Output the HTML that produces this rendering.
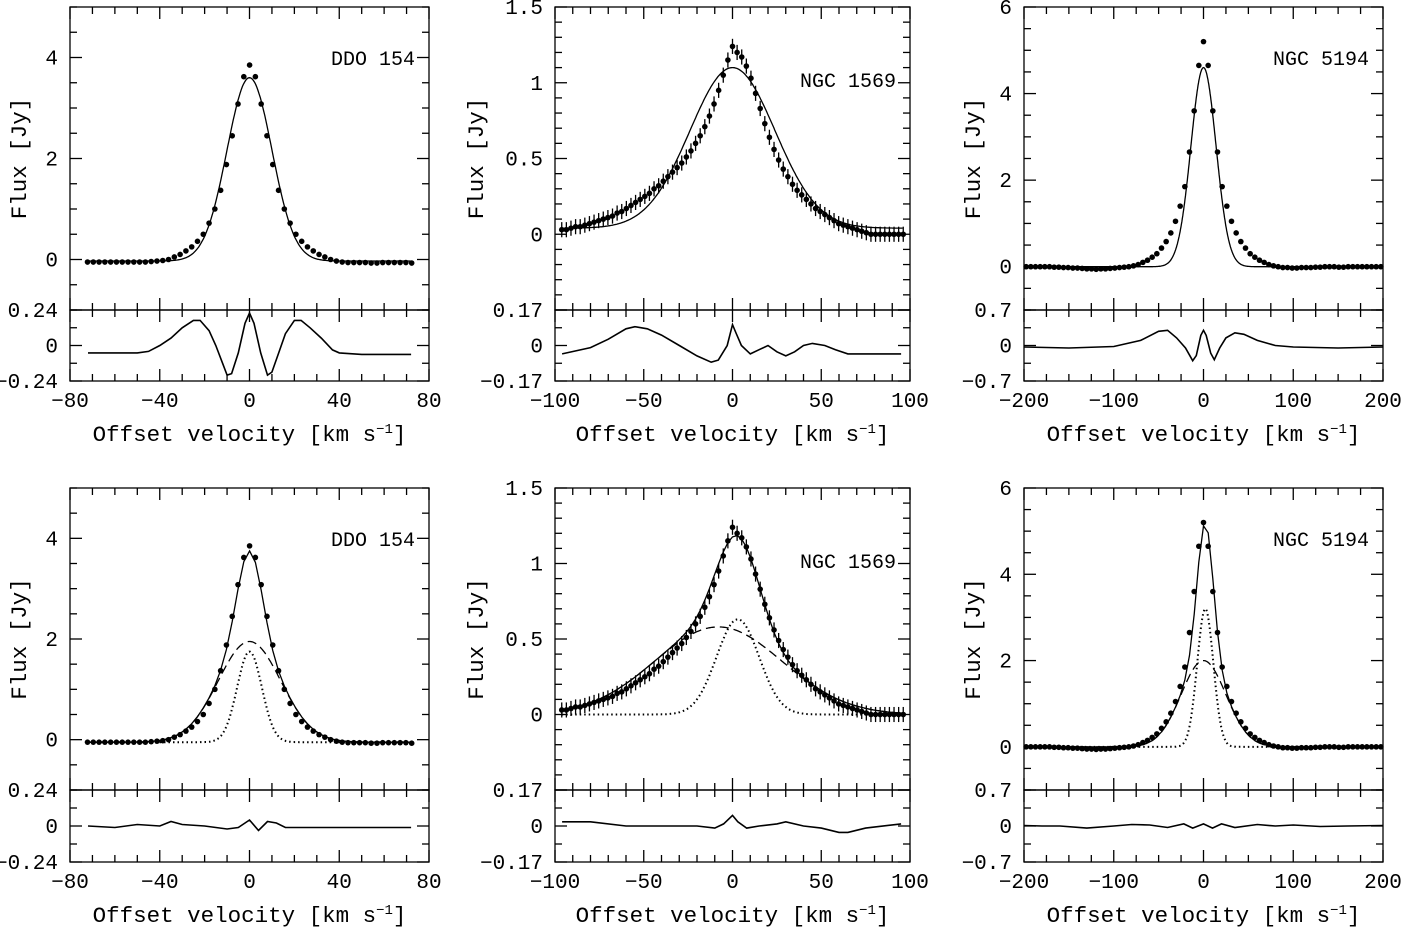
<!DOCTYPE html>
<html><head><meta charset="utf-8"><style>
html,body{margin:0;padding:0;background:#fff;}
svg{display:block;font-family:"Liberation Mono",monospace;}
</style></head><body>
<svg id="fig" width="1403" height="934" viewBox="0 0 1403 934"></svg>
<script>
// ---------- DATA ----------
// DDO 154 channels
const ddoStart=-72.2, ddoStep=2.58;
const ddoFlux=[-0.05,-0.05,-0.05,-0.05,-0.05,-0.05,-0.05,-0.05,-0.05,-0.05,-0.05,-0.04,-0.03,-0.02,
0.0,0.05,0.1,0.17,0.25,0.36,0.5,0.72,1.0,1.37,1.88,2.45,3.08,3.62,3.85,
3.62,3.08,2.45,1.88,1.37,1.0,0.72,0.5,0.36,0.25,0.17,0.1,0.05,0.0,-0.03,-0.05,-0.06,-0.06,-0.06,-0.06,-0.07,-0.07,-0.06,-0.06,-0.06,-0.06,-0.06,-0.07];
const ddoFit1Amp=[3.63], ddoFit1Cen=[0], ddoFit1Sig=[10], ddoFit1Base=[-0.03];
const ddoFit2Amp=[2.0,1.8], ddoFit2Cen=[0,0], ddoFit2Sig=[14,5.5], ddoFit2Base=[-0.05];
const ddoRes1X=[-72,-60,-50,-45,-40,-35,-30,-25,-22,-18,-15,-12,-10,-8,-5,-2,0,2,5,8,10,13,16,20,23,27,32,37,40,50,60,72];
const ddoRes1Y=[-0.05,-0.05,-0.05,-0.04,0.0,0.05,0.12,0.17,0.17,0.1,0.0,-0.12,-0.2,-0.19,-0.05,0.15,0.22,0.15,-0.05,-0.2,-0.18,-0.05,0.08,0.17,0.17,0.12,0.05,-0.03,-0.05,-0.06,-0.06,-0.06];
const ddoRes2X=[-72,-60,-50,-40,-35,-30,-20,-10,-5,0,4,8,12,16,25,40,55,72];
const ddoRes2Y=[0.0,-0.01,0.01,0.0,0.03,0.01,0.0,-0.02,-0.01,0.04,-0.03,0.03,0.02,-0.01,-0.01,-0.01,-0.01,-0.01];
// NGC 1569 channels
const n1569Start=-96.2, n1569Step=2.6;
const n1569Flux=[0.03,0.03,0.04,0.05,0.05,0.06,0.07,0.08,0.09,0.10,0.11,0.12,0.14,0.15,0.17,0.19,0.21,0.23,0.25,0.27,0.30,0.32,0.35,0.38,0.41,0.44,0.47,0.51,0.55,0.60,0.65,0.71,0.78,0.86,0.95,1.05,1.15,
1.24,
1.2,1.17,1.11,1.03,0.93,0.83,0.73,0.64,0.56,0.49,0.43,0.38,0.33,0.29,0.26,0.23,0.2,0.17,0.15,0.13,0.11,0.09,0.07,0.06,0.05,0.04,0.03,0.02,0.01,0,0,0,0,0,0,0,0];
const n1569Err=[0.05];
const n1569Fit1Amp=[1.06], n1569Fit1Cen=[0], n1569Fit1Sig=[24], n1569Fit1Base=[0.04];
const n1569Fit2Amp=[0.58,0.63], n1569Fit2Cen=[-8,3], n1569Fit2Sig=[36,12], n1569Fit2Base=[0];
const n1569Res1X=[-96,-80,-70,-60,-55,-48,-40,-30,-20,-12,-8,-3,0,2,5,10,15,20,25,30,35,40,45,52,58,65,95];
const n1569Res1Y=[-0.04,-0.01,0.03,0.08,0.09,0.08,0.05,0.0,-0.05,-0.08,-0.07,0.0,0.1,0.06,0.0,-0.04,-0.02,0.0,-0.03,-0.05,-0.03,0.0,0.01,0.0,-0.02,-0.04,-0.04];
const n1569Res2X=[-96,-80,-60,-40,-20,-10,-5,0,3,8,15,25,30,40,50,60,65,75,95];
const n1569Res2Y=[0.02,0.02,0.0,0.0,0.0,-0.01,0.01,0.05,0.02,-0.01,0.0,0.01,0.02,0.0,-0.01,-0.03,-0.03,-0.01,0.01];
// NGC 5194 channels
const n5194Start=-197.6, n5194Step=5.2;
const n5194Flux=[0.0,0.0,0.0,0.0,0.0,0.0,-0.01,-0.01,-0.02,-0.02,-0.03,-0.03,-0.04,-0.05,-0.05,-0.06,-0.05,-0.05,-0.04,-0.03,-0.02,-0.01,0.0,0.02,0.05,0.1,0.15,0.22,0.3,0.43,0.58,0.78,1.05,1.4,1.85,2.65,3.6,4.65,
5.2,
4.65,3.6,2.65,1.85,1.4,1.05,0.78,0.58,0.43,0.3,0.22,0.15,0.1,0.05,0.02,0.0,-0.02,-0.02,-0.03,-0.03,-0.02,-0.02,-0.02,-0.01,-0.01,0.0,0.0,0.0,-0.01,-0.01,0.0,0.0,0.0,0.0,0.0,0.0,0.0,0.0];
const n5194Fit1Amp=[4.6], n5194Fit1Cen=[0], n5194Fit1Sig=[14], n5194Fit1Base=[0.0];
const n5194Fit2Amp=[2.0,3.2], n5194Fit2Cen=[0,2], n5194Fit2Sig=[25,9], n5194Fit2Base=[0.0];
const n5194Res1X=[-200,-150,-100,-70,-50,-40,-30,-20,-12,-8,-3,0,3,8,12,18,25,35,45,60,80,100,150,200];
const n5194Res1Y=[-0.03,-0.05,-0.02,0.1,0.28,0.3,0.15,-0.05,-0.3,-0.2,0.2,0.3,0.2,-0.15,-0.28,-0.05,0.15,0.25,0.22,0.1,0.0,-0.03,-0.05,-0.03];
const n5194Res2X=[-200,-180,-160,-130,-100,-80,-60,-40,-22,-12,0,10,20,35,60,80,100,130,160,200];
const n5194Res2Y=[0.01,0.0,0.0,-0.04,0.0,0.03,0.02,-0.03,0.04,-0.04,0.04,-0.04,0.04,-0.03,0.03,0.0,0.02,-0.01,0.0,0.01];

// ---------- DRAWING ----------
const svg=document.getElementById('fig');
const NS='http://www.w3.org/2000/svg';
function mk(tag,attrs,parent){const e=document.createElementNS(NS,tag);for(const k in attrs)e.setAttribute(k,attrs[k]);(parent||svg).appendChild(e);return e;}
const cols=[{x0:70,x1:429},{x0:555,x1:910},{x0:1024,x1:1383}];
const rows=[{t:7,m:310,b:381},{t:488,m:790,b:862}];
function gauss(x,amp,cen,sig,base){let s=base[0];for(let i=0;i<amp.length;i++)s+=amp[i]*Math.exp(-(x-cen[i])*(x-cen[i])/(2*sig[i]*sig[i]));return s;}
function fmt(v){const s=(Math.round(v*100)/100).toString();return s.replace('-','\u2212');}

const specs=[
 {name:'ddo-154',label:'DDO 154',lblDy:51,xmin:-80,xmax:80,xminor:10,xmajor:40,xlabels:[-80,-40,0,40,80],ymin:-1,ymax:5,yminor:0.5,ymajor:2,ylabels:[0,2,4],r:0.24,rminor:0.12,
  start:ddoStart,step:ddoStep,flux:ddoFlux,err:null,
  fits:[[ddoFit1Amp,ddoFit1Cen,ddoFit1Sig,ddoFit1Base],[ddoFit2Amp,ddoFit2Cen,ddoFit2Sig,ddoFit2Base]],
  res:[[ddoRes1X,ddoRes1Y],[ddoRes2X,ddoRes2Y]]},
 {name:'ngc-1569',label:'NGC 1569',lblDy:73,xmin:-100,xmax:100,xminor:10,xmajor:50,xlabels:[-100,-50,0,50,100],ymin:-0.5,ymax:1.5,yminor:0.1,ymajor:0.5,ylabels:[0,0.5,1,1.5],r:0.17,rminor:0.085,
  start:n1569Start,step:n1569Step,flux:n1569Flux,err:n1569Err,
  fits:[[n1569Fit1Amp,n1569Fit1Cen,n1569Fit1Sig,n1569Fit1Base],[n1569Fit2Amp,n1569Fit2Cen,n1569Fit2Sig,n1569Fit2Base]],
  res:[[n1569Res1X,n1569Res1Y],[n1569Res2X,n1569Res2Y]]},
 {name:'ngc-5194',label:'NGC 5194',lblDy:51,xmin:-200,xmax:200,xminor:25,xmajor:100,xlabels:[-200,-100,0,100,200],ymin:-1,ymax:6,yminor:0.5,ymajor:2,ylabels:[0,2,4,6],r:0.7,rminor:0.35,
  start:n5194Start,step:n5194Step,flux:n5194Flux,err:null,
  fits:[[n5194Fit1Amp,n5194Fit1Cen,n5194Fit1Sig,n5194Fit1Base],[n5194Fit2Amp,n5194Fit2Cen,n5194Fit2Sig,n5194Fit2Base]],
  res:[[n5194Res1X,n5194Res1Y],[n5194Res2X,n5194Res2Y]]}
];

function ticksY(g,x0,x1,y0,y1,vmin,vmax,minor,major){
  const Y=v=>y1-(v-vmin)/(vmax-vmin)*(y1-y0);
  const n=Math.round((vmax-vmin)/minor);
  for(let i=0;i<=n;i++){const v=vmin+i*minor;const y=Y(v);
    const isMaj=Math.abs(v/major-Math.round(v/major))<1e-6;const L=isMaj?12:7;
    mk('line',{x1:x0,y1:y,x2:x0+L,y2:y},g);mk('line',{x1:x1,y1:y,x2:x1-L,y2:y},g);}
}
function ticksX(g,X,x0,x1,y0,y1,s){
  const n=Math.round((s.xmax-s.xmin)/s.xminor);
  for(let i=0;i<=n;i++){const v=s.xmin+i*s.xminor;const x=X(v);
    const isMaj=Math.abs(v/s.xmajor-Math.round(v/s.xmajor))<1e-6;const L=isMaj?12:7;
    mk('line',{x1:x,y1:y0,x2:x,y2:y0+L},g);mk('line',{x1:x,y1:y1,x2:x,y2:y1-L},g);}
}

for(let r=0;r<2;r++){
 for(let c=0;c<3;c++){
  const s=specs[c],col=cols[c],row=rows[r];
  const g=mk('g',{stroke:'#000','stroke-width':1.3,fill:'none'});
  
  
  const X=v=>col.x0+(v-s.xmin)/(s.xmax-s.xmin)*(col.x1-col.x0);
  const Y=v=>row.m-(v-s.ymin)/(s.ymax-s.ymin)*(row.m-row.t);
  const R=v=>(row.m+row.b)/2-v/(2*s.r)*(row.b-row.m);
  const f1=mk('rect',{x:col.x0,y:row.t,width:col.x1-col.x0,height:row.m-row.t},g);
  
  
  const f2=mk('rect',{x:col.x0,y:row.m,width:col.x1-col.x0,height:row.b-row.m},g);
  
  
  ticksY(g,col.x0,col.x1,row.t,row.m,s.ymin,s.ymax,s.yminor,s.ymajor);
  ticksY(g,col.x0,col.x1,row.m,row.b,-s.r,s.r,s.rminor,s.r);
  ticksX(g,X,col.x0,col.x1,row.t,row.m,s);
  ticksX(g,X,col.x0,col.x1,row.m,row.b,s);
  const fp=s.fits[r];
  const xe=s.start+s.step*(s.flux.length-1);
  if(r===0){
    let d='';let k=0;
    for(let v=s.start;v<=xe+1e-6;v+=0.5,k++){d+=(k?'L':'M')+X(v).toFixed(1)+','+Y(gauss(v,fp[0],fp[1],fp[2],fp[3])).toFixed(1);}
    const p=mk('path',{d:d},g);
    
    
  } else {
    for(let comp=0;comp<2;comp++){
      let d='';let k=0;
      for(let v=s.start;v<=xe+1e-6;v+=0.5,k++){d+=(k?'L':'M')+X(v).toFixed(1)+','+Y(gauss(v,[fp[0][comp]],[fp[1][comp]],[fp[2][comp]],fp[3])).toFixed(1);}
      const p=mk('path',{d:d,'stroke-dasharray':comp===0?'9,5':'1.5,3','stroke-width':comp===0?1.3:2},g);
      
      
    }
    let d='';for(let i=0;i<s.flux.length;i++){const v=s.start+i*s.step;d+=(i?'L':'M')+X(v).toFixed(1)+','+Y(gauss(v,fp[0],fp[1],fp[2],fp[3])).toFixed(1);}
    const p=mk('path',{d:d},g);
    
    
  }
  const pg=mk('g',{fill:'#000',stroke:'none'},g);
  
  
  for(let i=0;i<s.flux.length;i++){
    const v=s.start+i*s.step;
    if(s.err){const l=mk('line',{x1:X(v),x2:X(v),y1:Y(s.flux[i]-s.err[0]),y2:Y(s.flux[i]+s.err[0]),stroke:'#000','stroke-width':1.3},pg);
      
      }
    const ci=mk('circle',{cx:X(v),cy:Y(s.flux[i]),r:2.8},pg);
    
    
  }
  const rx=s.res[r][0],ry=s.res[r][1];
  let d='';for(let i=0;i<rx.length;i++){d+=(i?'L':'M')+X(rx[i]).toFixed(1)+','+R(ry[i]).toFixed(1);}
  const rp=mk('path',{d:d,'stroke-width':1.6},g);
  
  
  const tg=mk('g',{fill:'#000',stroke:'none','font-size':21});
  
  
  for(const v of s.xlabels){const t=mk('text',{x:X(v),y:row.b+26,'text-anchor':'middle'},tg);t.textContent=fmt(v);
    
    }
  for(const v of s.ylabels){const t=mk('text',{x:col.x0-12,y:Y(v)+7,'text-anchor':'end'},tg);t.textContent=fmt(v);
    
    }
  for(const v of [s.r,0,-s.r]){const t=mk('text',{x:col.x0-12,y:R(v)+7,'text-anchor':'end'},tg);t.textContent=fmt(v);
    
    }
  const xt=mk('text',{x:(col.x0+col.x1)/2,y:row.b+60,'text-anchor':'middle','font-size':22.5},tg);
  xt.innerHTML='Offset velocity [km s<tspan dy="-8" font-size="14">\u22121</tspan><tspan dy="8">]</tspan>';
  
  
  const ycx=col.x0-(c===1?72:44), ycy=(row.t+row.m)/2;
  const yt=mk('text',{x:ycx,y:ycy,'text-anchor':'middle','font-size':22.5,transform:'rotate(-90 '+ycx+' '+ycy+')'},tg);
  yt.textContent='Flux [Jy]';
  
  
  const gl=mk('text',{x:col.x1-14,y:row.t+s.lblDy+7,'text-anchor':'end','font-size':20},tg);
  gl.textContent=s.label;
  
  
 }
}
</script>
</body></html>
